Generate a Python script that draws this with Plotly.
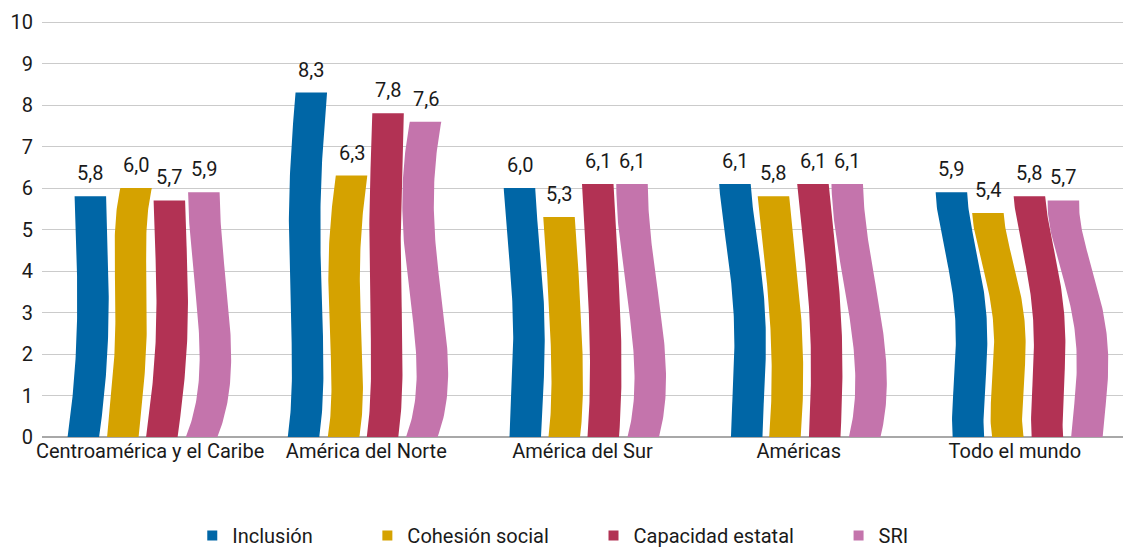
import numpy as np
import plotly.graph_objects as go

# ---- data ----
categories = ["Centroamérica y el Caribe", "América del Norte", "América del Sur", "Américas", "Todo el mundo"]
series_names = ["Inclusión", "Cohesión social", "Capacidad estatal", "SRI"]
inclusion = [5.8, 8.3, 6.0, 6.1, 5.9]
cohesion = [6.0, 6.3, 5.3, 5.8, 5.4]
capacidad = [5.7, 7.8, 6.1, 6.1, 5.8]
sri = [5.9, 7.6, 6.1, 6.1, 5.7]
y_ticks = list(range(0, 11))

# ---- styles ----
colors = ["#0066A6", "#D5A200", "#B23254", "#C474AC"]
legend_pad = [10, 8, 8, 8]  # trailing spaces after each legend label
# horizontal wave of each bar (px), sampled at t = 0, .25, .5, .75, 1 of bar height
wave_blue = [[-7.5, -0.8, 2, 1.5, -0.5], [-3.5, 0.5, -2, -1.5, 4.25], [2, 5, 5.25, 1, -3.75],
             [7.25, 10, 9.75, 3, -4.5], [12.75, 14.5, 15, 5.5, -4.25]]
wave_gold = [[-7.5, -1.5, 0.8, 0, 5.75], [-3, 0.5, -2, -1.5, 5], [1.5, 4.5, 3, 0, -3.75],
             [6, 8.5, 6.5, 1, -5.5], [12.75, 13, 14, 4, -7.25]]
wave_red = [[-8, -1, 2.25, 1.5, -0.5], [-3.5, 0.75, -0.75, -0.5, 2], [1, 3.5, 2.25, -1, -4.5],
            [6.25, 8.25, 6.5, 1, -5.5], [12.75, 14, 14, 5, -5.25]]
wave_pink = [[-7.75, 5.5, 4, -2, -5.5], [-3.75, 6.5, -2, -7.5, 0], [1.5, 8.5, 3, -5.5, -9.75],
             [6.75, 13, 6.25, -4.5, -10.75], [12.75, 18, 14.5, -0.5, -10.75]]

W, H = 1123, 548
ML, MR, MT, MB = 42, 0, 20, 111
Y_MAX = 10.05
ppu = (W - ML - MR) / len(categories)   # px per category unit
pitch_px, bar_w_px = 39.5, 31.5
FONT = "Roboto"

series_values = [inclusion, cohesion, capacidad, sri]
waves = [wave_blue, wave_gold, wave_red, wave_pink]
t_knots = np.linspace(0, 1, 5)
t = np.linspace(0, 1, 100)

fig = go.Figure()
annotations = []
for s, (name, vals, col, wv) in enumerate(zip(series_names, series_values, colors, waves)):
    for g, v in enumerate(vals):
        coef = np.polyfit(t_knots, wv[g], 4)
        off = np.polyval(coef, t)
        cx = g + ((s - 1.5) * pitch_px + off) / ppu
        hw = bar_w_px / 2 / ppu
        ys = t * v
        xs = np.concatenate([cx - hw, (cx + hw)[::-1], [cx[0] - hw]])
        yy = np.concatenate([ys, ys[::-1], [ys[0]]])
        fig.add_trace(go.Scatter(x=xs, y=yy, mode="lines", fill="toself", fillcolor=col,
                                 line=dict(width=0, color=col),
                                 showlegend=False, legendgroup=name, hoverinfo="skip"))
        annotations.append(dict(x=cx[-1], y=v, xref="x", yref="y", text=f"{v:.1f}".replace(".", ","),
                                showarrow=False, yanchor="bottom", xanchor="center", yshift=9,
                                font=dict(family=FONT, size=20, color="#1a1a1a")))
    fig.add_trace(go.Scatter(x=[None], y=[None], mode="markers", name=name + "\u00a0" * legend_pad[s],
                             marker=dict(symbol="square", size=10, color=col),
                             legendgroup=name, showlegend=True))

fig.update_layout(
    width=W, height=H,
    margin=dict(l=ML, r=MR, t=MT, b=MB, autoexpand=False),
    plot_bgcolor="white", paper_bgcolor="white",
    font=dict(family=FONT, size=20, color="#1a1a1a"),
    annotations=annotations,
    showlegend=True,
    legend=dict(orientation="h", x=0.491, xanchor="center", y=-0.236, yanchor="middle",
                font=dict(family=FONT, size=20, color="#1a1a1a"), itemclick=False),
    xaxis=dict(range=[-0.5, len(categories) - 0.5], tickmode="array",
               tickvals=list(range(len(categories))), ticktext=categories,
               showgrid=False, zeroline=False, showline=False, ticks="", automargin=False,
               tickfont=dict(family=FONT, size=20, color="#1a1a1a")),
    yaxis=dict(range=[0, Y_MAX], tickmode="array", tickvals=y_ticks,
               showgrid=True, gridcolor="#CBCBCB", gridwidth=1.3,
               zeroline=True, zerolinecolor="#A8A8A8", zerolinewidth=2,
               showline=False, ticks="", ticklabelstandoff=8, automargin=False,
               tickfont=dict(family=FONT, size=20, color="#1a1a1a")),
)

fig.write_html("out.html", config={"displayModeBar": False},
               post_script="document.body.style.margin='0px';")
